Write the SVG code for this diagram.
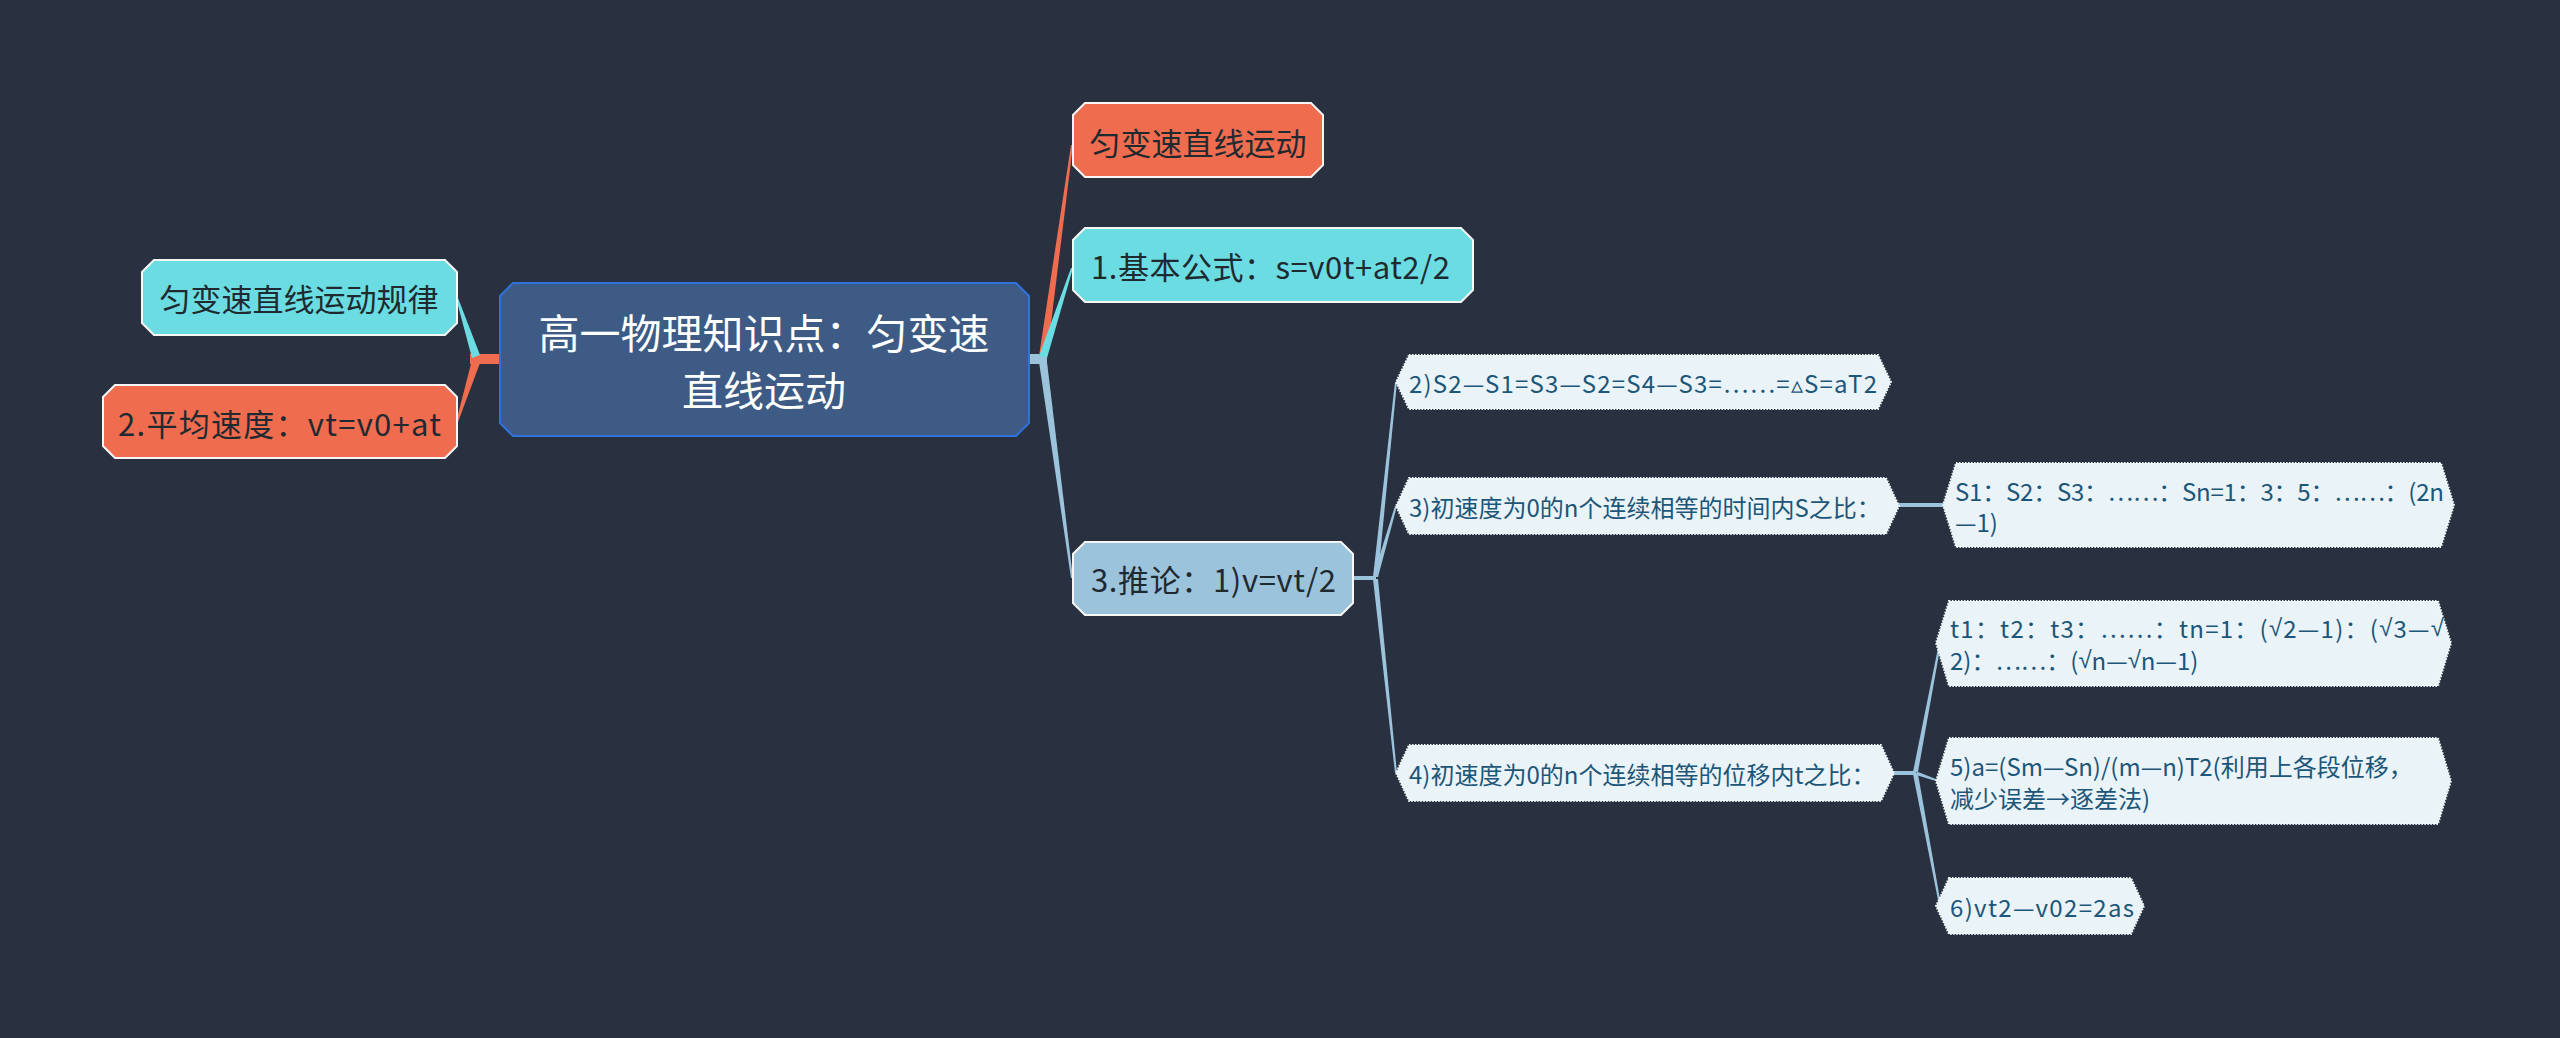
<svg xmlns="http://www.w3.org/2000/svg" width="2560" height="1038" viewBox="0 0 2560 1038">
<style>
text{font-family:"Noto Sans CJK SC","Noto Sans",sans-serif;dominant-baseline:central}
.org{fill:#ef6c4f;stroke:#f6f6f6;stroke-width:2}
.cya{fill:#6bdde2;stroke:#f6f6f6;stroke-width:2}
.lbl{fill:#9cc3dc;stroke:#f6f6f6;stroke-width:2}
.lt{fill:#eaf3f8;stroke:#f4f8fb;stroke-width:2;stroke-dasharray:1.5 1.5}
.t1{font-size:31px;fill:#1f2a30}
.t2{font-size:24px;fill:#1c5678}
.cl{fill:#9cc3dc}
.rt{font-family:"Liberation Sans",sans-serif}
</style>
<rect width="2560" height="1038" fill="#293140"/>
<g id="connectors">
<rect x="470" y="354" width="32" height="10" fill="#ef6c4f"/>
<polygon points="480,355 458,298 456,298 472,358" fill="#6bdde2"/>
<polygon points="480,363 458,422 456,422 472,360" fill="#ef6c4f"/>
<rect x="1027" y="354" width="20" height="10" class="cl"/>
<polygon points="1047,356 1073,145 1071,145 1039,356" fill="#ef6c4f"/>
<polygon points="1047,358 1073,268 1071,268 1039,356" fill="#6bdde2"/>
<polygon points="1047,362 1073,578 1071,578 1039,362" class="cl"/>
<rect x="1352" y="576" width="24" height="4" class="cl"/>
<polygon points="1378,577 1397,382 1395,382 1373,577" class="cl"/>
<polygon points="1378,577 1397,506 1395,506 1373,577" class="cl"/>
<polygon points="1378,579 1397,773 1395,773 1373,579" class="cl"/>
<rect x="1897" y="503" width="48" height="4" class="cl"/>
<rect x="1892" y="771" width="24" height="4" class="cl"/>
<polygon points="1918,772 1941,643 1939,643 1913,772" class="cl"/>
<polygon points="1918,772 1941,781 1939,782 1913,774" class="cl"/>
<polygon points="1918,774 1941,905 1939,905 1913,774" class="cl"/>
</g>
<g id="center">
<polygon points="513,283 1016,283 1029,296 1029,423 1016,436 513,436 500,423 500,296" fill="#3d5b84" stroke="#2f72dc" stroke-width="2"/>
<text x="764" y="331" font-size="41" fill="#ffffff" text-anchor="middle">高一物理知识点：匀变速</text>
<text x="764" y="388" font-size="41" fill="#ffffff" text-anchor="middle">直线运动</text>
</g>
<g id="n-guilv">
<polygon class="cya" points="154,260 445,260 457,272 457,323 445,335 154,335 142,323 142,272"/>
<text class="t1" x="299" y="297" text-anchor="middle">匀变速直线运动规律</text>
</g>
<g id="n-pingjun">
<polygon class="org" points="115,385 445,385 457,397 457,446 445,458 115,458 103,446 103,397"/>
<text class="t1" x="118" y="422" textLength="323" lengthAdjust="spacing">2.平均速度：vt=v0+at</text>
</g>
<g id="n-yunbian">
<polygon class="org" points="1085,103 1311,103 1323,115 1323,165 1311,177 1085,177 1073,165 1073,115"/>
<text class="t1" x="1198" y="141" text-anchor="middle">匀变速直线运动</text>
</g>
<g id="n-jiben">
<polygon class="cya" points="1085,228 1461,228 1473,240 1473,290 1461,302 1085,302 1073,290 1073,240"/>
<text class="t1" x="1091" y="265" textLength="359" lengthAdjust="spacing">1.基本公式：s=v0t+at2/2</text>
</g>
<g id="n-tuilun">
<polygon class="lbl" points="1085,542 1341,542 1353,554 1353,603 1341,615 1085,615 1073,603 1073,554"/>
<text class="t1" x="1091" y="578" textLength="245" lengthAdjust="spacing">3.推论：1)v=vt/2</text>
</g>
<g id="n-2">
<polygon class="lt" points="1409,355 1878,355 1891,382 1878,409 1409,409 1396,382"/>
<text class="t2" x="1409" y="382" textLength="468" lengthAdjust="spacing">2)S2—S1=S3—S2=S4—S3=……=▵S=aT2</text>
</g>
<g id="n-3">
<polygon class="lt" points="1409,478 1886,478 1899,506 1886,534 1409,534 1396,506"/>
<text class="t2" x="1409" y="506">3)初速度为0的n个连续相等的时间内S之比：</text>
</g>
<g id="n-s1">
<polygon class="lt" points="1956,463 2441,463 2454,505 2441,547 1956,547 1943,505"/>
<text class="t2" x="1955" y="490" textLength="489" lengthAdjust="spacing">S1：S2：S3：……：Sn=1：3：5：……：(2n</text>
<text class="t2" x="1955" y="521">—1)</text>
</g>
<g id="n-4">
<polygon class="lt" points="1409,745 1881,745 1894,773 1881,801 1409,801 1396,773"/>
<text class="t2" x="1409" y="773">4)初速度为0的n个连续相等的位移内t之比：</text>
</g>
<g id="n-t1">
<polygon class="lt" points="1949,601 2438,601 2451,643 2438,686 1949,686 1936,643"/>
<text class="t2" x="1950" y="627" textLength="494" lengthAdjust="spacing">t1：t2：t3：……：tn=1：(<tspan class="rt">√</tspan>2—1)：(<tspan class="rt">√</tspan>3—<tspan class="rt">√</tspan></text>
<text class="t2" x="1950" y="659">2)：……：(<tspan class="rt">√</tspan>n—<tspan class="rt">√</tspan>n—1)</text>
</g>
<g id="n-5">
<polygon class="lt" points="1949,738 2438,738 2451,781 2438,824 1949,824 1936,781"/>
<text class="t2" x="1950" y="765">5)a=(Sm—Sn)/(m—n)T2(利用上各段位移，</text>
<text class="t2" x="1950" y="797">减少误差→逐差法)</text>
</g>
<g id="n-6">
<polygon class="lt" points="1949,878 2131,878 2144,906 2131,934 1949,934 1936,906"/>
<text class="t2" x="1950" y="906" textLength="184" lengthAdjust="spacing">6)vt2—v02=2as</text>
</g>
</svg>
